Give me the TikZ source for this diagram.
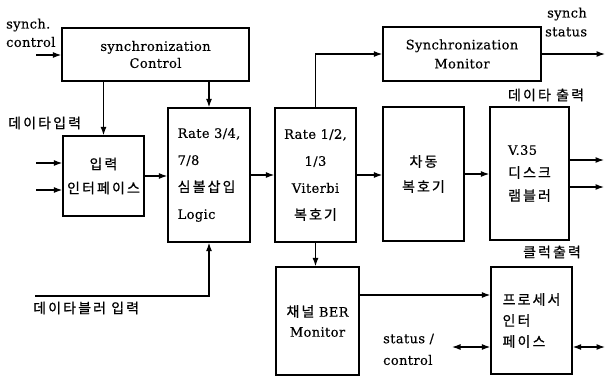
\documentclass[tikz,border=0pt]{standalone}
\usepackage{fontspec}
\setmainfont{DejaVu Serif}[LetterSpace=3, FakeBold=0.4]
\newfontfamily\kr{Noto Sans CJK KR}[LetterSpace=15, FakeBold=0.7]
\usetikzlibrary{arrows.meta,calc}
\begin{document}
\begin{tikzpicture}[x=1pt,y=-1pt,
  box/.style={draw, line width=1.3pt, inner sep=0pt},
  arr/.style={line width=1.2pt, -{Latex[length=8.5pt,width=6pt]}},
  darr/.style={line width=1.2pt, {Latex[length=8.5pt,width=6pt]}-{Latex[length=8.5pt,width=6pt]}},
  lbl/.style={inner sep=0pt, font=\fontsize{13}{17}\selectfont},
  klbl/.style={inner sep=0pt, font=\kr\fontsize{14}{16}\selectfont}]
\useasboundingbox (0,0) rectangle (612,378);

% boxes
\node[box, minimum width=187pt, minimum height=53pt, align=center, font=\fontsize{13}{17}\selectfont] (sc) at (155.5,54.5) {synchronization\\Control};
\node[box, minimum width=81pt, minimum height=80pt, align=center, font=\kr\fontsize{14}{24}\selectfont] (ii) at (103.5,176) {입력\\인터페이스};
\node[box, minimum width=82pt, minimum height=134pt, align=left, font=\fontsize{13}{27}\selectfont] (r34) at (209,175) {Rate 3/4,\\7/8\\{\kr\fontsize{14}{27}\selectfont 심볼삽입}\\Logic};
\node[box, minimum width=81pt, minimum height=134pt, align=center, font=\fontsize{13}{27}\selectfont] (vit) at (315.5,175) {Rate 1/2,\\1/3\\Viterbi\\{\kr\fontsize{14}{27}\selectfont 복호기}};
\node[box, minimum width=158pt, minimum height=54pt, align=center, font=\fontsize{13}{19}\selectfont] (sm) at (462,54) {Synchronization\\Monitor};
\node[box, minimum width=81pt, minimum height=134pt, align=center, font=\kr\fontsize{14}{25}\selectfont] (cd) at (423.5,174) {차동\\복호기};
\node[box, minimum width=79pt, minimum height=133pt, align=left, font=\fontsize{13}{23}\selectfont] (v35) at (529.5,173.5) {V.35\\{\kr\fontsize{14}{23}\selectfont 디스크}\\{\kr\fontsize{14}{23}\selectfont 램블러}};
\node[box, minimum width=83pt, minimum height=108pt, align=center, font=\fontsize{13}{20}\selectfont] (ber) at (317.5,321) {{\kr\fontsize{14}{20}\selectfont 채널} BER\\Monitor};
\node[box, minimum width=81pt, minimum height=107pt, align=left, font=\kr\fontsize{14}{21}\selectfont] (pi) at (531.5,320.5) {프로세서\\인터\\페이스};

% labels
\node[lbl, anchor=west] (l1) at (6,25) {synch.};
\node[lbl, anchor=west] (l2) at (6,42) {control};
\node[klbl, anchor=west] (l3) at (8,123) {데이타입력};
\node[klbl] (l4) at (546,95) {데이타 출력};
\node[klbl] (l5) at (552,252) {클럭출력};
\node[lbl, anchor=west] (l6) at (547,14) {synch};
\node[lbl, anchor=west] (l7) at (545,32) {status};
\node[klbl, anchor=west] (l8) at (33,308) {데이타블러 입력};
\node[lbl, anchor=west] (l9) at (383,339) {status /};
\node[lbl, anchor=west] (l10) at (383,360) {control};

% free ends
\coordinate (sci) at (36,55);
\coordinate (in1) at (36,163);
\coordinate (in2) at (36,190);
\coordinate (o1) at (604,160);
\coordinate (o2) at (604,187);
\coordinate (so) at (605,54);
\coordinate (bi) at (35,296);
\coordinate (b1) at ([yshift=26pt]ber.east);
\coordinate (s1) at (452,347);
\coordinate (s2) at (605,347);

% connectors
\draw[arr] (sci) -- (sci -| sc.west);
\draw[arr] (sc.south -| ii.north) -- (ii.north);
\draw[arr] (sc.south -| r34.north) -- (r34.north);
\draw[arr] (in1) -- (in1 -| ii.west);
\draw[arr] (in2) -- (in2 -| ii.west);
\draw[arr] (ii.east) -- (ii.east -| r34.west);
\draw[arr] (r34.east) -- (vit.west);
\draw[arr] (vit.east) -- (vit.east -| cd.west);
\draw[arr] (cd.east) -- (cd.east -| v35.west);
\draw[arr] (o1 -| v35.east) -- (o1);
\draw[arr] (o2 -| v35.east) -- (o2);
\draw[arr] (vit.north) |- (sm.west);
\draw[arr] (sm.east) -- (so);
\draw[arr] (vit.south) -- (vit.south |- ber.north);
\draw[arr] (bi) -| (r34.south);
\draw[arr] (b1) -- (b1 -| pi.west);
\draw[darr] (s1) -- (s1 -| pi.west);
\draw[darr] (s2 -| pi.east) -- (s2);
\end{tikzpicture}
\end{document}
